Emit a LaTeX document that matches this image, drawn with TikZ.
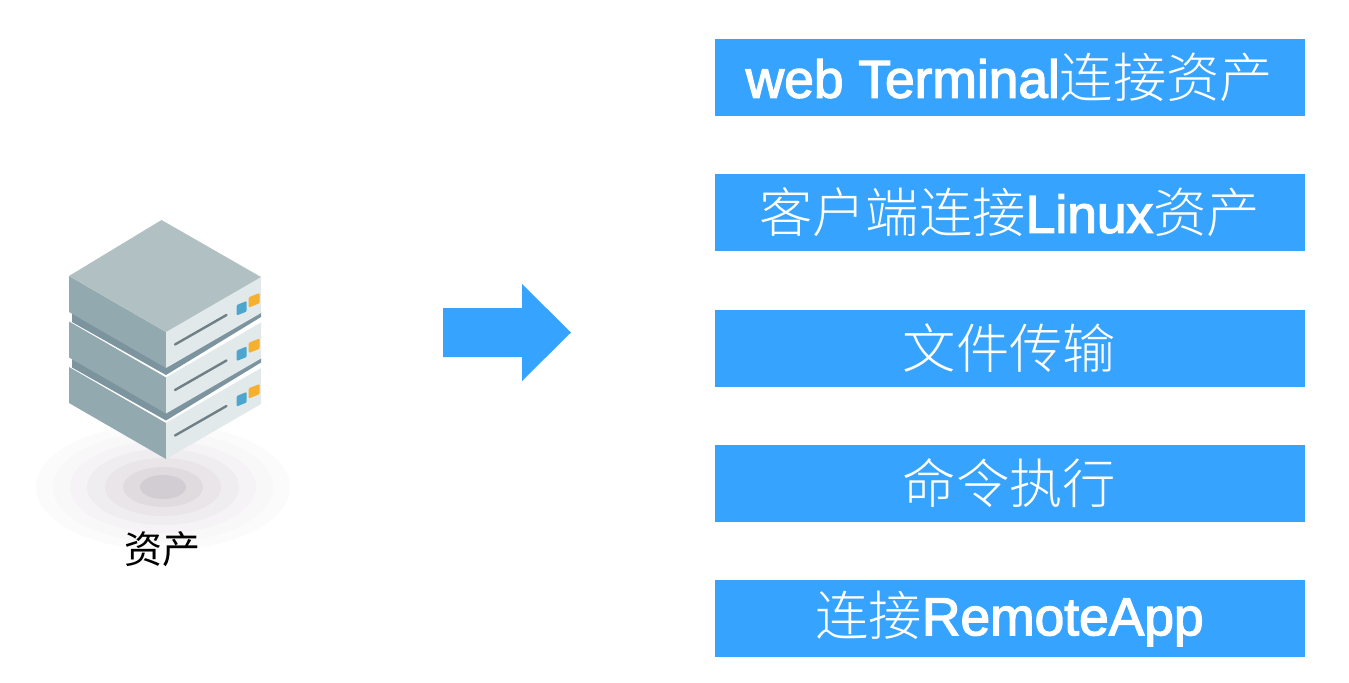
\documentclass[tikz,border=0pt]{standalone}
\usepackage{fontspec}
\setmainfont{Liberation Sans}
\newfontfamily\cjk{Noto Sans CJK SC Light}
\newfontfamily\cjkreg{Noto Sans CJK SC}
\newfontfamily\lat[FakeBold=2.5]{Liberation Sans}
\definecolor{bluebox}{HTML}{36A3FF}
\definecolor{topface}{HTML}{B1C0C2}
\definecolor{sideface}{HTML}{93A9B0}
\definecolor{frontface}{HTML}{E1E9EB}
\definecolor{gapdark}{HTML}{7C949E}
\definecolor{slot}{HTML}{6F7F86}
\definecolor{ledblue}{HTML}{4CA6CE}
\definecolor{ledorange}{HTML}{F5B02E}
\definecolor{shadowa}{HTML}{FCFBFC}
\definecolor{shadowb}{HTML}{F9F8F9}
\definecolor{shadowc}{HTML}{F5F3F5}
\definecolor{shadowd}{HTML}{F0EDF0}
\definecolor{shadowe}{HTML}{E9E5E8}
\definecolor{shadowf}{HTML}{DFDBDF}
\definecolor{shadowg}{HTML}{D1CDD2}
\tikzset{
  x=0.75pt,y=-0.75pt,
  actionbox/.style={fill=bluebox,draw=none,minimum width=442.5pt,minimum height=57.75pt,inner sep=0pt,text=white,anchor=center,font=\fontsize{40}{46}\selectfont},
  assetlabel/.style={text=black,inner sep=0pt,font=\fontsize{28.5}{32}\selectfont\cjkreg},
  ledA/.style={fill=ledblue,rounded corners=0.8pt},
  ledB/.style={fill=ledorange,rounded corners=0.8pt},
  slotline/.style={draw=slot,line width=1.8pt,line cap=round}
}
\newcommand{\serverunit}[1]{%
  \begin{scope}[yshift=#1*-0.75pt]
    \fill[sideface] (69,276) -- (166,332) -- (166,368) -- (69,312) -- cycle;
    \fill[frontface] (166,332) -- (261,277) -- (261,313) -- (166,368) -- cycle;
    \draw[slotline] (175,344.5) -- (226.5,315);
    \fill[ledA] (236.7,305) -- (246.7,301) -- (246.7,311.5) -- (236.7,315.5) -- cycle;
    \fill[ledB] (248.7,297.3) -- (259.5,293) -- (259.5,303.3) -- (248.7,307.5) -- cycle;
  \end{scope}}
\newcommand{\servergap}[1]{%
  \begin{scope}[yshift=#1*-0.75pt]
    \fill[gapdark] (72,313) -- (166,367) -- (261,312) -- (261,317) -- (166,375) -- (72,322) -- cycle;
  \end{scope}}
\begin{document}
\begin{tikzpicture}
\useasboundingbox (0,0) rectangle (1349,682);
% floor shadow
\fill[shadowa] (163,487) ellipse [x radius=127,y radius=63];
\fill[shadowb] (163,487) ellipse [x radius=110,y radius=55];
\fill[shadowc] (163,487) ellipse [x radius=93,y radius=46];
\fill[shadowd] (163,487) ellipse [x radius=76,y radius=38];
\fill[shadowe] (163,487) ellipse [x radius=58,y radius=29];
\fill[shadowf] (163,487) ellipse [x radius=40,y radius=20];
\fill[shadowg] (163,487) ellipse [x radius=23,y radius=12];
% server, bottom unit first
\serverunit{91}
\servergap{45.5}
\serverunit{45.5}
\servergap{0}
\serverunit{0}
\fill[topface] (161.5,220) -- (261,277) -- (166,332) -- (69,276) -- cycle;
% arrow
\fill[bluebox] (443,308) -- (522,308) -- (522,284) -- (571,332.5) -- (522,381) -- (522,357) -- (443,357) -- cycle;
% boxes
\node[actionbox] (b1) at (1009.5,77.5) {\lat web Terminal\cjk 连接资产};
\node[actionbox] (b2) at (1009.5,212.5) {\cjk 客户端连接\lat Linux\cjk 资产};
\node[actionbox] (b3) at (1009.5,348) {\cjk 文件传输};
\node[actionbox] (b4) at (1009.5,483.5) {\cjk 命令执行};
\node[actionbox] (b5) at (1009.5,618.5) {\cjk 连接\lat RemoteApp};
\node[assetlabel] (asset) at (162,549) {资产};
\end{tikzpicture}
\end{document}
